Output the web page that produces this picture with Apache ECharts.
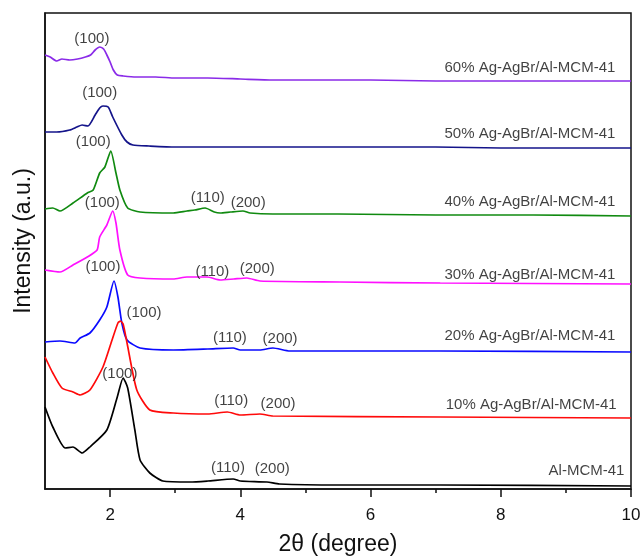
<!DOCTYPE html>
<html>
<head>
<meta charset="utf-8">
<script src="https://cdn.jsdelivr.net/npm/echarts@6/dist/echarts.min.js"></script>
<style>
html,body{margin:0;padding:0;background:#fff;}
#chart{width:643px;height:556px;}
</style>
</head>
<body>
<div id="chart"></div>
<script>
// ---- data (2θ in degree, intensity in a.u., curves vertically offset as in the figure) ----
var xMajorTicks = [2, 4, 6, 8, 10];
var xMinorTicks = [3, 5, 7, 9];

var sampleNames = ['60% Ag-AgBr/Al-MCM-41','50% Ag-AgBr/Al-MCM-41','40% Ag-AgBr/Al-MCM-41','30% Ag-AgBr/Al-MCM-41','20% Ag-AgBr/Al-MCM-41','10% Ag-AgBr/Al-MCM-41','Al-MCM-41'];
var sampleColors = ['#8a2be8','#14148a','#108a10','#ff10ff','#0a0aff','#ff0a0a','#000000'];

var s60 = [[1.0,434],[1.08,432],[1.18,428],[1.26,430],[1.38,429],[1.5,430],[1.62,432],[1.7,434],[1.77,439],[1.84,442],[1.9,440],[1.95,434],[2.0,427],[2.05,419],[2.11,414],[2.2,413],[2.4,412],[2.7,412],[3.0,411],[3.5,411],[4.0,410],[4.5,409],[5.0,409],[6.0,409],[7.0,408],[8.0,408],[9.0,408],[10,408]];
var s50 = [[1.0,357],[1.18,357],[1.38,359],[1.49,362],[1.57,364],[1.66,363],[1.77,374],[1.84,381],[1.89,383],[1.97,382],[2.04,372],[2.18,354],[2.26,347],[2.35,344],[2.6,343],[3.0,342],[3.5,342],[4.0,342],[5.0,342],[6.0,342],[7.0,342],[8.0,341],[9.0,341],[10,341]];
var s40 = [[1.0,280],[1.12,281],[1.23,278],[1.43,286],[1.65,296],[1.74,299],[1.84,316],[1.92,322],[2.01,338],[2.09,316],[2.15,299],[2.27,281],[2.46,277],[2.97,276],[3.18,278],[3.3,279],[3.46,281],[3.6,277],[3.69,276],[3.85,277],[4.04,278],[4.15,276],[4.5,275],[5.5,275],[7.0,274],[8.5,274],[10,273]];
var s30 = [[1.0,219],[1.23,217],[1.43,224],[1.65,232],[1.8,239],[1.84,252],[1.95,264],[2.04,278],[2.09,266],[2.15,239],[2.27,214],[2.46,211],[2.97,210],[3.18,212],[3.49,212],[3.69,209],[3.9,210],[4.1,211],[4.3,208],[5.53,207],[7.07,206],[10,205]];
var s20 = [[1.0,147],[1.23,148],[1.46,146],[1.54,151],[1.69,156],[1.84,169],[1.95,182],[2.06,208],[2.12,192],[2.18,166],[2.26,149],[2.46,141],[2.97,139],[3.5,140],[3.89,141],[4.0,139],[4.3,139],[4.5,141],[4.76,138],[5.5,138],[7.07,138],[10,137]];
var s10 = [[1.0,132],[1.12,116],[1.26,101],[1.43,97],[1.54,94],[1.69,99],[1.89,122],[2.03,149],[2.12,166],[2.16,168],[2.2,165],[2.26,146],[2.41,99],[2.61,79],[2.97,76],[3.5,75],[3.8,77],[4.0,74],[4.3,75],[4.5,73],[7.07,72],[10,71]];
var s0 = [[1.0,82],[1.12,62],[1.31,41],[1.43,42],[1.57,36],[1.69,42],[1.95,59],[2.11,92],[2.2,111],[2.27,101],[2.38,59],[2.46,29],[2.61,16],[2.81,8],[3.23,7],[3.5,8],[3.89,10],[4.0,8],[4.41,7],[4.6,5],[5.5,4],[7.07,4],[10,3]];
var seriesData = [s60, s50, s40, s30, s20, s10, s0];

// peak annotations [x, y, text]
var peakLabels = [
  [1.72,450,'(100)'],
  [1.84,396,'(100)'],
  [1.74,347,'(100)'],[3.5,291,'(110)'],[4.12,286,'(200)'],
  [1.88,286,'(100)'],[3.57,217,'(110)'],[4.26,220,'(200)'],
  [1.89,222,'(100)'],[3.84,151,'(110)'],[4.61,150,'(200)'],
  [2.52,176,'(100)'],[3.86,88,'(110)'],[4.58,85,'(200)'],
  [2.15,115,'(100)'],[3.81,21,'(110)'],[4.49,20,'(200)']
];
// sample name labels: right end x, centre y
var nameLabelX = [9.76, 9.76, 9.76, 9.76, 9.76, 9.78, 9.9];
var nameLabelY = [421, 355, 287, 214, 153, 84, 18];

var FONT = '"Liberation Sans", Arial, Helvetica, sans-serif';

var series = [];
for (var i = 0; i < seriesData.length; i++) {
  series.push({
    name: sampleNames[i], type: 'line', data: seriesData[i],
    showSymbol: false, smooth: 0.2,
    lineStyle: {color: sampleColors[i], width: 1.7},
    itemStyle: {color: sampleColors[i]},
    silent: true, z: 3
  });
}
series.push({
  type: 'scatter', symbolSize: 0.1, itemStyle: {color: 'transparent'}, silent: true, z: 5,
  data: peakLabels.map(function (p) { return {value: [p[0], p[1]], name: p[2]}; }),
  label: {show: true, position: 'inside', formatter: '{b}', color: '#111', fontSize: 15, fontFamily: FONT}
});
series.push({
  type: 'scatter', symbolSize: 0.1, itemStyle: {color: 'transparent'}, silent: true, z: 5,
  data: sampleNames.map(function (n, k) { return {value: [nameLabelX[k], nameLabelY[k]], name: n}; }),
  label: {show: true, position: 'left', distance: 0, formatter: '{b}', color: '#111', fontSize: 15, fontFamily: FONT}
});

var chart = echarts.init(document.getElementById('chart'), null, {renderer: 'canvas'});
chart.setOption({
  animation: false,
  backgroundColor: '#ffffff',
  grid: {left: 45, right: 12, top: 13, bottom: 67, containLabel: false, outerBoundsMode: 'none',
         show: true, borderColor: '#111', borderWidth: 1.5, backgroundColor: 'transparent'},
  xAxis: [{
    type: 'value', min: 1, max: 10, interval: 1,
    name: '2\u03b8 (degree)', nameLocation: 'middle', nameGap: 44,
    nameTextStyle: {fontSize: 23, color: '#111', fontFamily: FONT},
    axisLine: {show: true, onZero: false, lineStyle: {color: '#111', width: 1.5}},
    axisTick: {show: true, customValues: xMajorTicks, length: 8, lineStyle: {color: '#111', width: 1.5}},
    axisLabel: {show: true, customValues: xMajorTicks, margin: 18, fontSize: 17, color: '#111', fontFamily: FONT},
    splitLine: {show: false}
  }, {
    type: 'value', min: 1, max: 10, interval: 1, position: 'bottom',
    axisLine: {show: false},
    axisTick: {show: true, customValues: xMinorTicks, length: 4, lineStyle: {color: '#111', width: 1.5}},
    axisLabel: {show: false},
    splitLine: {show: false}
  }],
  yAxis: {
    type: 'value', min: 0, max: 476,
    name: 'Intensity (a.u.)', nameLocation: 'middle', nameGap: 10,
    nameTextStyle: {fontSize: 23, color: '#111', fontFamily: FONT, padding: [0, 0, 0, 20]},
    axisLine: {show: true, onZero: false, lineStyle: {color: '#111', width: 1.5}},
    axisTick: {show: false}, axisLabel: {show: false}, splitLine: {show: false}
  },
  series: series
});
</script>
</body>
</html>
